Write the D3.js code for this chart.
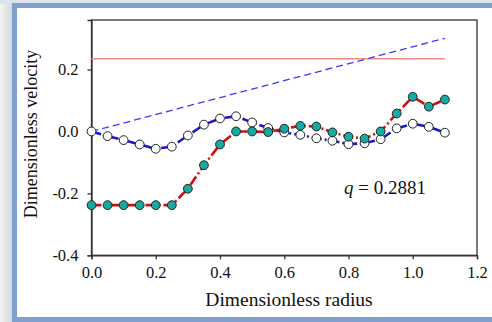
<!DOCTYPE html>
<html><head><meta charset="utf-8">
<script src="https://cdn.jsdelivr.net/npm/d3@7"></script>
<style>body{margin:0;background:#fff;}svg{display:block;} text{font-family:'Liberation Serif','Times New Roman',serif;}</style>
</head><body>
<svg id="c" width="492" height="322"></svg>
<script>
const radius = [0,0.05,0.1,0.15,0.2,0.25,0.3,0.35,0.4,0.45,0.5,0.55,0.6,0.65,0.7,0.75,0.8,0.85,0.9,0.95,1.0,1.05,1.1];
const velTeal = [-0.238,-0.238,-0.238,-0.238,-0.238,-0.238,-0.185,-0.109,-0.042,0.0,0.0,-0.002,0.009,0.018,0.016,-0.003,-0.017,-0.023,0.0,0.058,0.112,0.080,0.103];
const velWhite = [0.0,-0.015,-0.028,-0.042,-0.056,-0.049,-0.013,0.022,0.042,0.049,0.029,0.011,-0.003,-0.011,-0.022,-0.030,-0.041,-0.038,-0.025,0.010,0.025,0.015,-0.004];
const refLineX = [0,1.1];
const refLineY = [0.235,0.235];
const diagX = [0,1.1];
const diagY = [0,0.301];
const xTicks = [0,0.2,0.4,0.6,0.8,1.0,1.2];
const yTicks = [-0.4,-0.2,0.0,0.2];
const xLabel = "Dimensionless radius";
const yLabel = "Dimensionless velocity";

const svg = d3.select("#c");
const defs = svg.append("defs");
const g1 = defs.append("linearGradient").attr("id","sh").attr("x1","0").attr("x2","1");
g1.append("stop").attr("offset","0").attr("stop-color","#f4f4f4");
g1.append("stop").attr("offset","1").attr("stop-color","#cfd3d8");
svg.append("rect").attr("x",0).attr("y",0).attr("width",492).attr("height",322).attr("fill","#fff");
svg.append("rect").attr("x",0).attr("y",0).attr("width",14).attr("height",322).attr("fill","url(#sh)");
svg.append("rect").attr("x",0).attr("y",0).attr("width",492).attr("height",4).attr("fill","#dde3ea");
svg.append("rect").attr("x",14.5).attr("y",5.5).attr("width",500).attr("height",314).attr("fill","#fff")
  .attr("stroke","#7f9fcc").attr("stroke-width",5);
svg.append("rect").attr("x",17).attr("y",8).attr("width",480).attr("height",309).attr("fill","#fff");

const L=91.5, R=477, T=20, B=255.3;
const x = d3.scaleLinear().domain([0,1.2]).range([L,R]);
const y = d3.scaleLinear().domain([-0.4,0.36]).range([B,T]);
const font = "'Liberation Serif','Times New Roman',serif";

svg.append("rect").attr("x",L).attr("y",T).attr("width",R-L).attr("height",B-T)
  .attr("fill","none").attr("stroke","#333").attr("stroke-width",1.3);

const fmt = d => d3.format(".1f")(d).replace("−","-");
const xa = svg.append("g").attr("transform",`translate(0,${B})`)
  .call(d3.axisBottom(x).tickValues(xTicks).tickFormat(fmt).tickSize(4).tickPadding(7));
const ya = svg.append("g").attr("transform",`translate(${L},0)`)
  .call(d3.axisLeft(y).tickValues(yTicks).tickFormat(fmt).tickSize(4).tickPadding(9));
[xa,ya].forEach(a=>{
  a.attr("font-family",font).attr("font-size",16);
  a.select(".domain").attr("stroke","#333").attr("stroke-width",1.3);
  a.selectAll(".tick line").attr("stroke","#333").attr("stroke-width",1.3);
  a.selectAll("text").style("font-family",font).style("font-size","16.5px").attr("fill","#111");
});

svg.append("text").attr("x",289).attr("y",306).attr("text-anchor","middle")
  .style("font-family",font).style("font-size","19.5px").attr("fill","#111").text(xLabel);
svg.append("text").attr("transform",`translate(37,134) rotate(-90)`).attr("text-anchor","middle")
  .style("font-family",font).style("font-size","18px").attr("fill","#111").text(yLabel);

svg.append("path").datum(refLineX.map((d,i)=>[d,refLineY[i]]))
  .attr("d",d3.line().x(d=>x(d[0])).y(d=>y(d[1])))
  .attr("stroke","#ee8a8a").attr("stroke-width",1.5).attr("fill","none");
svg.append("path").datum(diagX.map((d,i)=>[d,diagY[i]]))
  .attr("d",d3.line().x(d=>x(d[0])).y(d=>y(d[1])))
  .attr("stroke","#3a3aff").attr("stroke-width",1.3).attr("stroke-dasharray","7,4").attr("fill","none");

const line = d3.line().x(d=>x(d[0])).y(d=>y(d[1]));
const dW = radius.map((r,i)=>[r,velWhite[i]]);
const dT = radius.map((r,i)=>[r,velTeal[i]]);
svg.append("path").datum(dW).attr("d",line).attr("stroke","#1818c8").attr("stroke-width",2.6)
  .attr("stroke-dasharray","10,3,2,3").attr("fill","none");
svg.append("path").datum(dT).attr("d",line).attr("stroke","#cc1010").attr("stroke-width",2.6)
  .attr("stroke-dasharray","10,3,2,3").attr("fill","none");

svg.append("g").selectAll("circle").data(dW).join("circle")
  .attr("cx",d=>x(d[0])).attr("cy",d=>y(d[1])).attr("r",4.4)
  .attr("fill","#fff").attr("stroke","#222").attr("stroke-width",1);
svg.append("g").selectAll("circle").data(dT).join("circle")
  .attr("cx",d=>x(d[0])).attr("cy",d=>y(d[1])).attr("r",4.4)
  .attr("fill","#17aaa2").attr("stroke","#222").attr("stroke-width",1);

const qt = svg.append("text").attr("x",344).attr("y",194).style("font-family",font).style("font-size","19px").attr("fill","#111");
qt.append("tspan").attr("font-style","italic").text("q");
qt.append("tspan").text(" = 0.2881");
</script>
</body></html>
